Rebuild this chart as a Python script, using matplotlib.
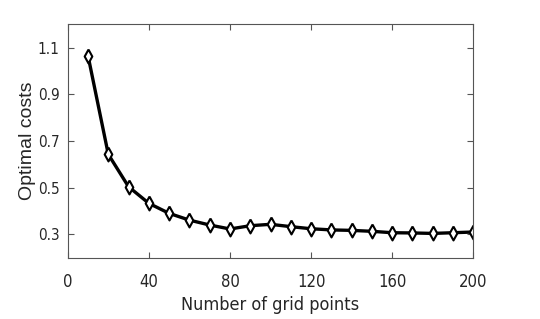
import numpy as np
import matplotlib
matplotlib.use("Agg")
import matplotlib.pyplot as plt

# grid size vs optimal cost
grid_points = [10, 20, 30, 40, 50, 60, 70, 80, 90, 100,
               110, 120, 130, 140, 150, 160, 170, 180, 190, 200]
optimal_costs = [1.066, 0.643, 0.504, 0.433, 0.390, 0.361, 0.340, 0.323, 0.337, 0.343,
                 0.333, 0.324, 0.319, 0.317, 0.313, 0.307, 0.306, 0.304, 0.307, 0.310]

x_ticks = [0, 40, 80, 120, 160, 200]
y_ticks = [0.3, 0.5, 0.7, 0.9, 1.1]

AXIS_COLOR = '#555555'
TEXT_COLOR = '#262626'
# tall thin diamond like the matlab one
DIAMOND = [(0, 1), (0.55, 0), (0, -1), (-0.55, 0), (0, 1)]


def plot_costs(out_name):
  fig = plt.figure(figsize=(5.4, 3.19), dpi=100, facecolor='w')
  ax = fig.add_axes([0.1254, 0.1922, 0.7511, 0.7316])

  ax.plot(grid_points, optimal_costs, color='k', linewidth=2.4,
          marker=DIAMOND, markersize=10, markerfacecolor='w',
          markeredgecolor='k', markeredgewidth=1.5)

  ax.set_xlim(0, 200)
  ax.set_ylim(0.2, 1.2)
  ax.set_xticks(x_ticks)
  ax.set_yticks(y_ticks)
  ax.set_xticklabels([str(t) for t in x_ticks], fontsize=12, fontstretch='condensed')
  ax.set_yticklabels(['{:.1f}'.format(t) for t in y_ticks], fontsize=11, fontstretch='condensed')

  ax.tick_params(direction='in', length=4, width=0.8, top=True, right=True,
                 colors=AXIS_COLOR, labelcolor=TEXT_COLOR)
  ax.tick_params(axis='x', pad=11)
  ax.tick_params(axis='y', pad=6)
  for sp in ax.spines.values():
    sp.set_color(AXIS_COLOR)
    sp.set_linewidth(0.8)

  ax.set_xlabel('Number of grid points', fontsize=13, fontstretch='condensed',
                color=TEXT_COLOR)
  ax.xaxis.set_label_coords(0.5, -0.165)
  ax.set_ylabel('Optimal costs', family=['Liberation Sans', 'DejaVu Sans'],
                fontsize=14, color=TEXT_COLOR)
  ax.yaxis.set_label_coords(-0.078, 0.5)

  fig.savefig(out_name, dpi=100)
  plt.close()


def main():
  plot_costs('out.png')


if __name__ == "__main__":
  main()
